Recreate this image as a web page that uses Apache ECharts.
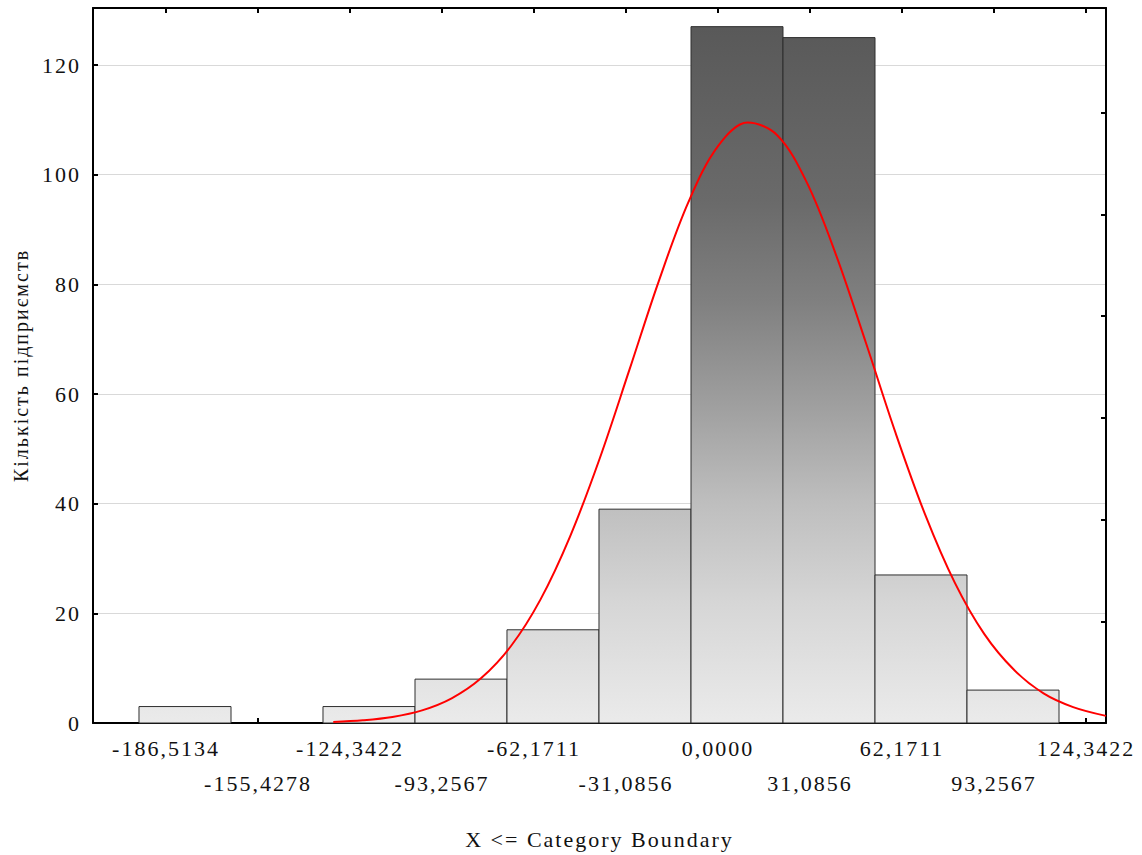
<!DOCTYPE html>
<html>
<head>
<meta charset="utf-8">
<style>
  html, body { margin: 0; padding: 0; background: #fff; }
  #chart { width: 1142px; height: 855px; }
  #chart text { letter-spacing: 2px; }
</style>
<script src="https://cdn.jsdelivr.net/npm/echarts@6/dist/echarts.min.js"></script>
</head>
<body>
<div id="chart"></div>
<script>
// Category boundaries printed under the axis
const boundaryValues = [-186.5134, -155.4278, -124.3422, -93.2567, -62.1711, -31.0856, 0, 31.0856, 62.1711, 93.2567, 124.3422];
const boundaryLabels = ['-186,5134', '-155,4278', '-124,3422', '-93,2567', '-62,1711', '-31,0856', '0,0000', '31,0856', '62,1711', '93,2567', '124,3422'];

// Histogram bins: left/right edges and counts
const binLeft  = [-195.64, -164.55, -133.47, -102.38, -71.30, -40.21, -9.12, 21.96, 53.05, 84.13];
const binRight = [-164.55, -133.47, -102.38, -71.30, -40.21, -9.12, 21.96, 53.05, 84.13, 115.22];
const counts   = [3, 0, 3, 8, 17, 39, 127, 125, 27, 6];

// Fitted normal curve (expected counts)
const curveX = [-130, -120, -110, -100, -90, -80, -70, -60, -50, -40, -30, -20, -10, 0, 10, 20, 30, 40, 50, 60, 70, 80, 90, 100, 110, 120, 131.1];
const curveY = [0.2, 0.5, 1.1, 2.3, 4.5, 8.2, 14.0, 22.5, 34.0, 48.2, 64.3, 80.6, 95.0, 105.2, 109.5, 107.2, 98.6, 85.2, 69.3, 52.9, 38.0, 25.6, 16.2, 9.7, 5.4, 2.9, 1.3];

const yTicks = [0, 20, 40, 60, 80, 100, 120];
const rightTicks = [1, 2, 3, 4, 5, 6];

const FONT = "'Liberation Serif', 'Times New Roman', serif";
const TEXT = '#111';

const chart = echarts.init(document.getElementById('chart'), null, { renderer: 'svg' });

const barFill = new echarts.graphic.LinearGradient(0, 8, 0, 725, [
  { offset: 0.0,  color: '#575757' },
  { offset: 0.27, color: '#6a6a6a' },
  { offset: 0.41, color: '#808080' },
  { offset: 0.55, color: '#9e9e9e' },
  { offset: 0.69, color: '#bebebe' },
  { offset: 0.83, color: '#d6d6d6' },
  { offset: 1.0,  color: '#ebebeb' }
], true);

function labelFor(v) {
  let best = 0;
  for (let i = 1; i < boundaryValues.length; i++) {
    if (Math.abs(boundaryValues[i] - v) < Math.abs(boundaryValues[best] - v)) best = i;
  }
  return best;
}

const frameLine = { show: true, onZero: false, lineStyle: { color: '#000', width: 2 } };
const tickStyle = { color: '#000', width: 2 };

chart.setOption({
  animation: false,
  grid: { left: 93, right: 36, top: 8, bottom: 130, containLabel: false },
  xAxis: [
    {
      type: 'value', position: 'bottom', min: -211.18, max: 131.1,
      name: 'X <= Category Boundary', nameLocation: 'middle', nameGap: 105,
      nameTextStyle: { fontFamily: FONT, fontSize: 22, color: TEXT },
      axisLine: frameLine,
      axisTick: { show: true, inside: true, length: 5, customValues: boundaryValues, lineStyle: tickStyle },
      axisLabel: {
        show: true, margin: 14, customValues: boundaryValues,
        fontFamily: FONT, fontSize: 22, color: TEXT,
        formatter: function (v) {
          const i = labelFor(v);
          return (i % 2 === 0 ? '{hi|' : '{lo|') + boundaryLabels[i] + '}';
        },
        rich: {
          hi: { fontFamily: FONT, fontSize: 22, color: TEXT, lineHeight: 22 },
          lo: { fontFamily: FONT, fontSize: 22, color: TEXT, lineHeight: 92 }
        }
      },
      splitLine: { show: false }
    },
    {
      type: 'value', position: 'top', min: -211.18, max: 131.1,
      axisLine: frameLine,
      axisTick: { show: true, inside: true, length: 5, customValues: boundaryValues, lineStyle: tickStyle },
      axisLabel: { show: false },
      splitLine: { show: false }
    }
  ],
  yAxis: [
    {
      type: 'value', position: 'left', min: 0, max: 130.4,
      name: 'Кількість підприємств', nameLocation: 'middle', nameGap: 62,
      nameTextStyle: { fontFamily: FONT, fontSize: 20, color: TEXT },
      axisLine: frameLine,
      axisTick: { show: true, inside: true, length: 5, customValues: yTicks, lineStyle: tickStyle },
      axisLabel: { show: true, margin: 12, customValues: yTicks, fontFamily: FONT, fontSize: 22, color: TEXT },
      splitLine: { show: true, lineStyle: { color: '#d9d9d9', width: 1 } }
    },
    {
      type: 'value', position: 'right', min: 0, max: 7.03,
      axisLine: frameLine,
      axisTick: { show: true, inside: true, length: 5, customValues: rightTicks, lineStyle: tickStyle },
      axisLabel: { show: false },
      splitLine: { show: false }
    }
  ],
  series: [
    {
      type: 'custom',
      xAxisIndex: 0, yAxisIndex: 0,
      data: counts.map((c, i) => [binLeft[i], binRight[i], c]),
      renderItem: function (params, api) {
        const c = api.value(2);
        if (!c) return null;
        const p0 = api.coord([api.value(0), c]);
        const p1 = api.coord([api.value(1), 0]);
        return {
          type: 'rect',
          shape: { x: p0[0], y: p0[1], width: p1[0] - p0[0], height: p1[1] - p0[1] },
          style: { fill: barFill, stroke: '#2e2e2e', lineWidth: 1 }
        };
      },
      z: 2
    },
    {
      type: 'line',
      xAxisIndex: 0, yAxisIndex: 0,
      data: curveX.map((x, i) => [x, curveY[i]]),
      smooth: 0.35,
      showSymbol: false,
      lineStyle: { color: '#ff0000', width: 2 },
      z: 3
    }
  ]
});
</script>
</body>
</html>
